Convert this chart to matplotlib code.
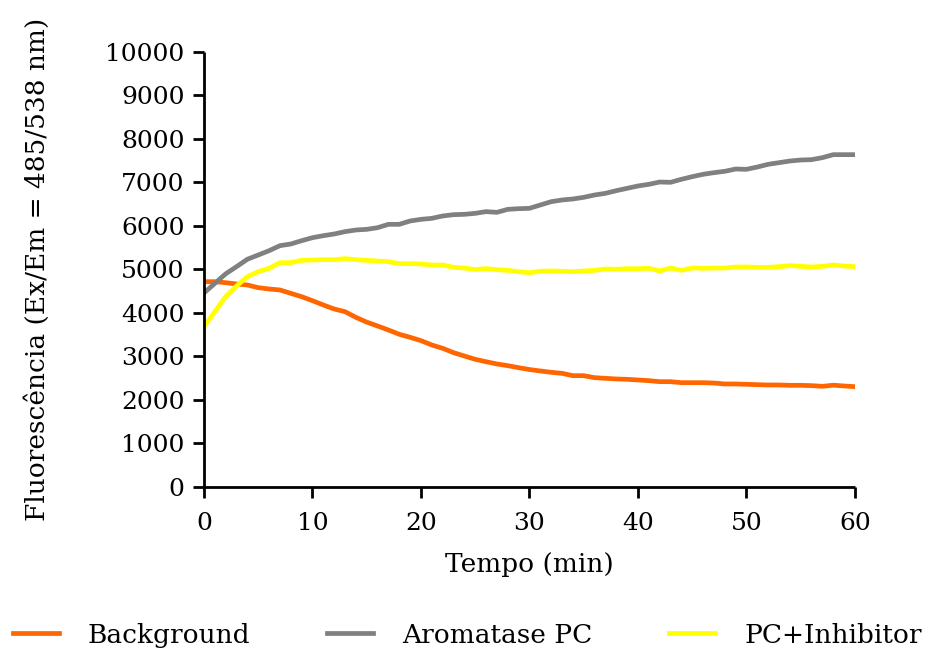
import numpy as np
import matplotlib
matplotlib.use('Agg')
import matplotlib.pyplot as plt

plt.rcParams['font.family'] = ['DejaVu Serif']

#Time axis (min)
tempo = np.arange(0, 61)

#Values, one per minute
background = [4720, 4720, 4697, 4667, 4644, 4582, 4552, 4529, 4452, 4375,
              4283, 4184, 4092, 4030, 3900, 3790, 3701, 3609, 3510, 3441,
              3364, 3264, 3188, 3088, 3011, 2935, 2880, 2828, 2789, 2743,
              2700, 2667, 2636, 2613, 2559, 2559, 2513, 2498, 2483, 2475,
              2460, 2444, 2421, 2421, 2398, 2398, 2398, 2390, 2368, 2368,
              2360, 2352, 2345, 2345, 2337, 2337, 2330, 2314, 2340, 2322,
              2306]
aromatase = [4460, 4680, 4900, 5065, 5235, 5333, 5432, 5548, 5586, 5662,
             5731, 5777, 5816, 5870, 5908, 5923, 5961, 6038, 6038, 6115,
             6153, 6176, 6230, 6260, 6268, 6291, 6330, 6314, 6383, 6398,
             6406, 6483, 6559, 6598, 6621, 6659, 6713, 6751, 6812, 6866,
             6920, 6958, 7011, 7004, 7073, 7134, 7188, 7226, 7257, 7310,
             7303, 7356, 7418, 7456, 7494, 7517, 7525, 7571, 7640, 7640,
             7640]
inhibitor = [3686, 4030, 4375, 4620, 4835, 4950, 5027, 5157, 5157, 5211,
             5218, 5226, 5226, 5249, 5226, 5210, 5195, 5180, 5134, 5134,
             5126, 5103, 5103, 5050, 5034, 5000, 5020, 4995, 4980, 4950,
             4925, 4960, 4967, 4960, 4950, 4967, 4980, 5011, 5004, 5019,
             5019, 5027, 4967, 5034, 4980, 5035, 5027, 5034, 5034, 5057,
             5057, 5050, 5050, 5065, 5088, 5073, 5057, 5073, 5103, 5080,
             5065]

fig = plt.figure(figsize=(9.25, 6.5), dpi=100)
ax = fig.add_axes([0.2205, 0.2508, 0.7038, 0.6692])

ax.plot(tempo, background, color='#FF6600', lw=3.4, label='Background')
ax.plot(tempo, aromatase, color='#808080', lw=3.4, label='Aromatase PC')
ax.plot(tempo, inhibitor, color='#FFFF00', lw=3.4, label='PC+Inhibitor')

ax.set_xlim(0, 60)
ax.set_ylim(0, 10000)
ax.set_xticks(np.arange(0, 61, 10))
ax.set_yticks(np.arange(0, 10001, 1000))

for s in ['top', 'right']:
 ax.spines[s].set_visible(False)
for s in ['left', 'bottom']:
 ax.spines[s].set_linewidth(2)
 ax.spines[s].set_capstyle('butt')
ax.tick_params(width=2, length=8, labelsize=18, pad=6)
ax.tick_params(axis='x', pad=10)

ax.set_xlabel('Tempo (min)', fontsize=19, labelpad=12)
ax.set_ylabel('Fluorescência (Ex/Em = 485/538 nm)', fontsize=19, labelpad=40)

fig.legend(loc='lower center', bbox_to_anchor=(0.505, -0.033), ncol=3, frameon=False,
           fontsize=19, handlelength=1.75, handletextpad=1.1, columnspacing=2.9)

fig.savefig('out.png', dpi=100)
